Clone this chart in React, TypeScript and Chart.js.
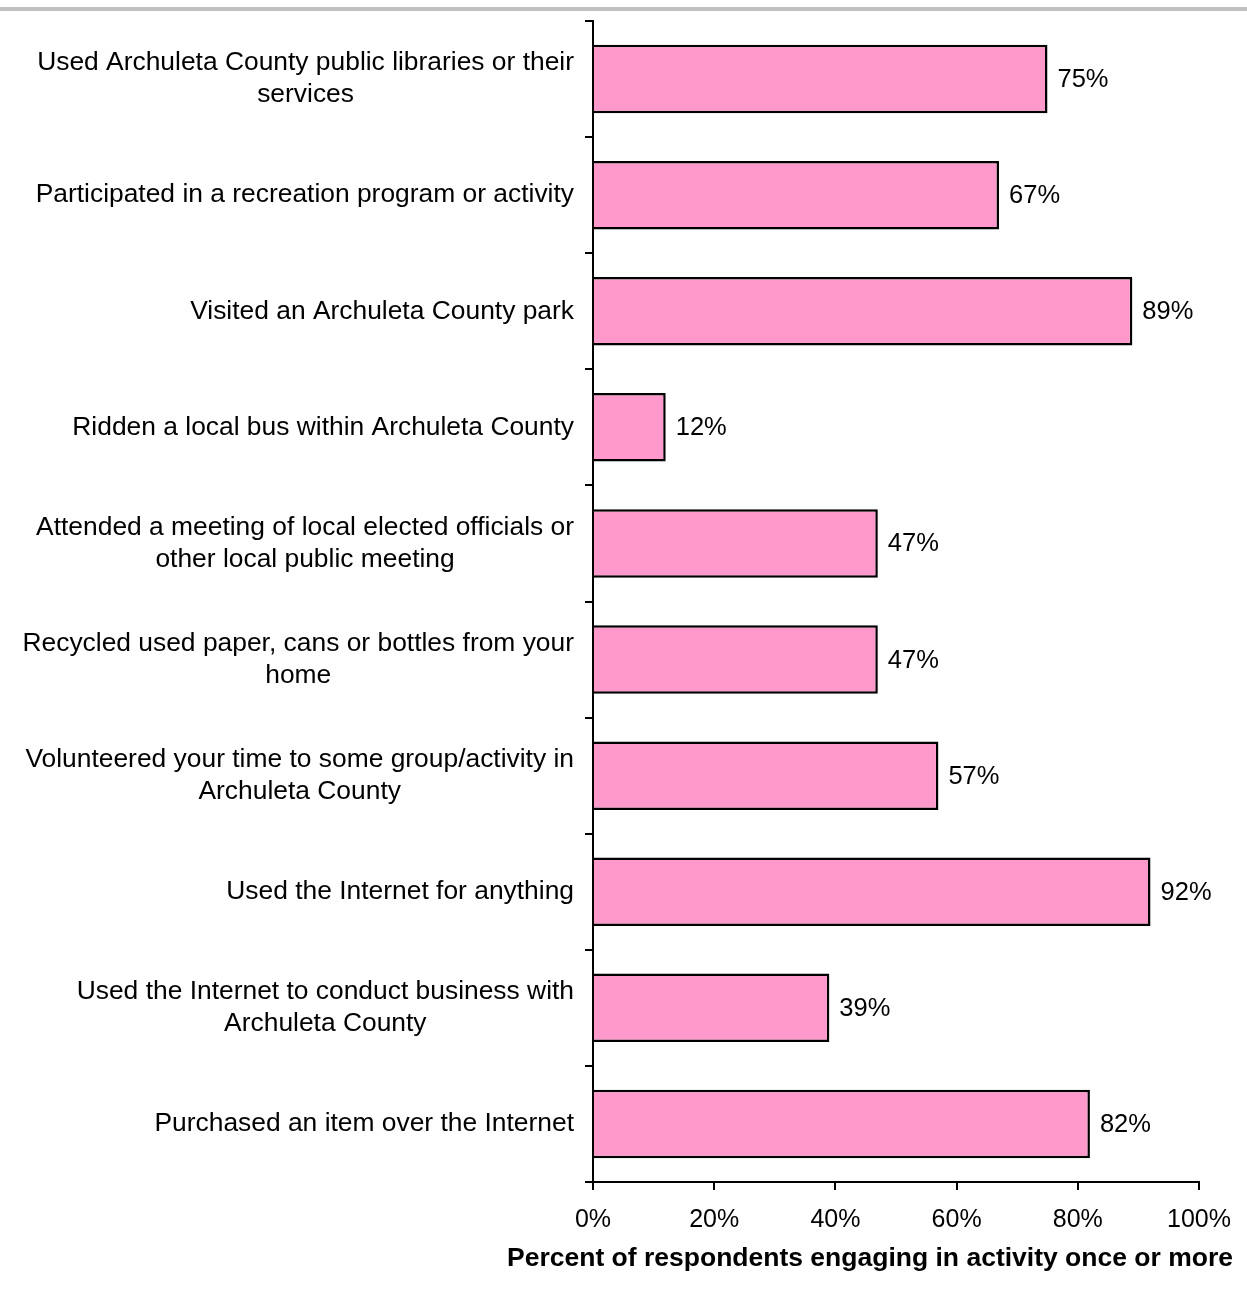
import React, { useEffect, useRef } from "react";
import { Chart, registerables } from "chart.js";

Chart.register(...registerables);

const categories: string[][] = [
  ["Used Archuleta County public libraries or their", "services"],
  ["Participated in a recreation program or activity"],
  ["Visited an Archuleta County park"],
  ["Ridden a local bus within Archuleta County"],
  ["Attended a meeting of local elected officials or", "other local public meeting"],
  ["Recycled used paper, cans or bottles from your", "home"],
  ["Volunteered your time to some group/activity in", "Archuleta County"],
  ["Used the Internet for anything"],
  ["Used the Internet to conduct business with", "Archuleta County"],
  ["Purchased an item over the Internet"],
];

const values: number[] = [75, 67, 89, 12, 47, 47, 57, 92, 39, 82];

const xTicks: number[] = [0, 20, 40, 60, 80, 100];

const axisTitle = "Percent of respondents engaging in activity once or more";

const FONT = "'Liberation Sans', Arial, Helvetica, sans-serif";
const W = 1247;
const H = 1293;

const decorPlugin = {
  id: "decor",
  beforeDraw(chart: any) {
    const ctx = chart.ctx;
    ctx.save();
    ctx.fillStyle = "#ffffff";
    ctx.fillRect(0, 0, chart.width, chart.height);
    ctx.fillStyle = "#c0c0c0";
    ctx.fillRect(0, 7, chart.width, 4);
    ctx.restore();
  },
  afterDraw(chart: any) {
    const ctx = chart.ctx;
    const yScale = chart.scales.y;
    ctx.save();
    ctx.fillStyle = "#000";
    // category labels: block right-aligned, lines centered within block
    ctx.font = `26.4px ${FONT}`;
    ctx.textBaseline = "middle";
    ctx.textAlign = "center";
    const lh = 32;
    categories.forEach((lines, i) => {
      const yc = yScale.getPixelForValue(i);
      const widest = Math.max(...lines.map((l) => ctx.measureText(l).width));
      const cx = 574 - widest / 2;
      const y0 = yc - ((lines.length - 1) * lh) / 2;
      lines.forEach((l, j) => ctx.fillText(l, cx, y0 + j * lh));
    });
    // data labels
    ctx.font = `25.5px ${FONT}`;
    ctx.textAlign = "left";
    const meta = chart.getDatasetMeta(0);
    meta.data.forEach((el: any, i: number) => {
      ctx.fillText(`${values[i]}%`, el.x + 10, el.y + 1);
    });
    // axis title
    ctx.font = `bold 26.5px ${FONT}`;
    ctx.textAlign = "center";
    ctx.fillText(axisTitle, 870, 1259);
    ctx.restore();
  },
};

export default function App() {
  const ref = useRef<HTMLCanvasElement | null>(null);
  useEffect(() => {
    if (!ref.current) return;
    const chart = new Chart(ref.current, {
      type: "bar",
      data: {
        labels: categories.map((c) => c.join(" ")),
        datasets: [
          {
            data: values,
            backgroundColor: "#FF99CC",
            borderColor: "#000000",
            borderWidth: 2.5,
            barPercentage: 0.59,
            categoryPercentage: 1,
          },
        ],
      },
      options: {
        indexAxis: "y",
        responsive: false,
        animation: false,
        devicePixelRatio: 1,
        layout: { padding: { top: 21, right: 48, bottom: 0, left: 0 } },
        plugins: {
          legend: { display: false },
          tooltip: { enabled: false },
          title: { display: false },
        },
        scales: {
          y: {
            type: "category",
            position: "left",
            offset: true,
            grid: {
              display: true,
              drawOnChartArea: false,
              drawTicks: true,
              tickLength: 8,
              color: "#000",
              lineWidth: 2,
              offset: true,
            },
            border: { display: true, color: "#000", width: 2 },
            ticks: { display: false },
            afterFit: (scale: any) => {
              scale.width = 593;
            },
          },
          x: {
            type: "linear",
            min: 0,
            max: 100,
            afterBuildTicks: (scale: any) => {
              scale.ticks = xTicks.map((v) => ({ value: v }));
            },
            ticks: {
              stepSize: 20,
              color: "#000",
              padding: 15,
              font: { family: FONT, size: 25 },
              callback: (v: any) => `${v}%`,
            },
            grid: {
              display: true,
              drawOnChartArea: false,
              drawTicks: true,
              tickLength: 8,
              color: "#000",
              lineWidth: 2,
            },
            border: { display: true, color: "#000", width: 2 },
            afterFit: (scale: any) => {
              scale.height = 111;
            },
          },
        },
      },
      plugins: [decorPlugin],
    });
    return () => chart.destroy();
  }, []);
  return (
    <canvas
      ref={ref}
      width={W}
      height={H}
      style={{ position: "absolute", left: 0, top: 0, width: W, height: H }}
    />
  );
}
